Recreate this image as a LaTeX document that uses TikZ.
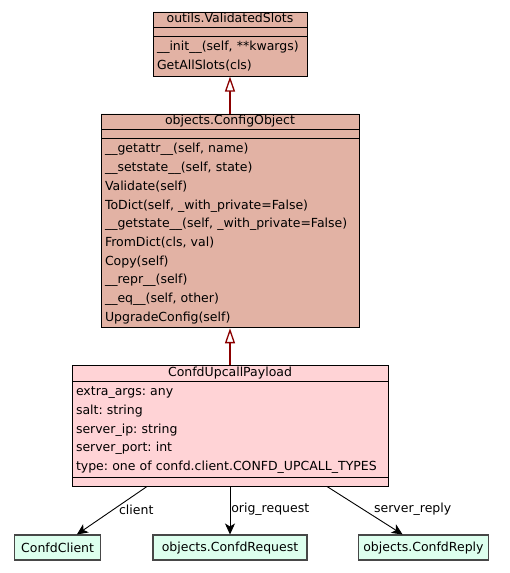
\documentclass[tikz,border=0pt]{standalone}
\usepackage{fontspec}
\setmainfont{DejaVu Sans}
\usetikzlibrary{positioning,arrows.meta,shapes.multipart}
\definecolor{classsalmon}{RGB}{226,178,164}
\definecolor{payloadpink}{RGB}{255,211,214}
\definecolor{refmint}{RGB}{221,255,238}
\definecolor{inheritred}{RGB}{139,0,0}
\newcommand{\mstrut}{\rule[-5.2pt]{0pt}{18.7pt}}
\newcommand{\umlhead}[1]{\hbox to\hsize{\hss\rule[-3pt]{0pt}{12pt}#1\hss}}
\newcommand{\emptypart}{\rule{0pt}{6pt}}

\begin{document}
\begin{tikzpicture}[
        x=1pt, y=-1pt,
        node distance=37pt,
        font={\fontsize{12.5}{18.7}\selectfont\parindent=0pt\frenchspacing},
        umlclass/.style={draw, rectangle split, rectangle split parts=3, inner xsep=4pt, inner ysep=1pt, align=left, line width=0.8pt},
        refbox/.style={draw=black!72, line width=1.4pt, fill=refmint, minimum height=25pt, inner xsep=4pt},
        inherit/.style={draw=inheritred, line width=2pt, -{Triangle[open, length=15pt, width=10pt, fill=white, line width=1.3pt]}},
        assoc/.style={-{Stealth[length=11pt, width=10pt, inset=3pt]}, line width=0.9pt}
    ]
        \useasboundingbox (0,0) rectangle (509,573);

        \node[umlclass, fill=classsalmon, text width=146pt, anchor=north] (slots) at (230,11.5) {\umlhead{outils.ValidatedSlots}
            \nodepart{second}\emptypart
            \nodepart{third}\mstrut\_\_init\_\_(self, **kwargs)\\
            GetAllSlots(cls)\mstrut};
        \node[umlclass, fill=classsalmon, text width=250pt, below=of slots] (cfg) {\umlhead{objects.ConfigObject}
            \nodepart{second}\emptypart
            \nodepart{third}\mstrut\_\_getattr\_\_(self, name)\\
            \_\_setstate\_\_(self, state)\\
            Validate(self)\\
            ToDict(self, \_with\_private=False)\\
            \_\_getstate\_\_(self, \_with\_private=False)\\
            FromDict(cls, val)\\
            Copy(self)\\
            \_\_repr\_\_(self)\\
            \_\_eq\_\_(self, other)\\
            UpgradeConfig(self)\mstrut};
        \node[umlclass, fill=payloadpink, text width=308pt, below=of cfg] (payload) {\umlhead{ConfdUpcallPayload}
            \nodepart{second}\mstrut extra\_args: any\\
            salt: string\\
            server\_ip: string\\
            server\_port: int\\
            type: one of confd.client.CONFD\_UPCALL\_TYPES\mstrut
            \nodepart{third}\emptypart};

        \node[refbox, minimum width=154pt, below=48pt of payload] (req) {objects.ConfdRequest};
        \node[refbox, minimum width=86pt, left=51pt of req] (client) {ConfdClient};
        \node[refbox, minimum width=130pt, right=50pt of req] (reply) {objects.ConfdReply};

        \draw[inherit] (cfg) -- (slots);
        \draw[inherit] (payload) -- (cfg);

        \draw[assoc] ([xshift=-83pt]payload.south) -- (client) node[pos=0.48, right=2pt] {client};
        \draw[assoc] (payload.south) -- (req) node[pos=0.48, right=-2.5pt] {orig\_request};
        \draw[assoc] ([xshift=97pt]payload.south) -- (reply) node[pos=0.48, right=7pt] {server\_reply};
    \end{tikzpicture}
\end{document}
